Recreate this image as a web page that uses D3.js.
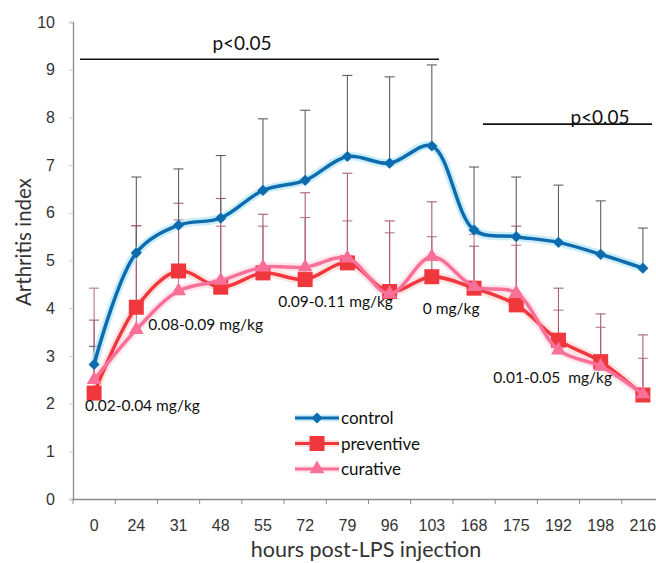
<!DOCTYPE html>
<html>
<head>
<meta charset="utf-8">
<script src="https://cdn.jsdelivr.net/npm/d3@7/dist/d3.min.js"></script>
<style>
  html, body { margin: 0; padding: 0; background: #fff; }
  svg { display: block; font-family: Lato, "Open Sans", "Liberation Sans", sans-serif; }
</style>
</head>
<body>
<svg id="chart" width="656" height="563"></svg>
<script>
// Time points (hours after LPS injection)
const hours = ["0", "24", "31", "48", "55", "72", "79", "96", "103", "168", "175", "192", "198", "216"];

// Mean arthritis index per group
const control    = [2.82, 5.16, 5.74, 5.89, 6.47, 6.68, 7.18, 7.04, 7.40, 5.64, 5.50, 5.38, 5.13, 4.84];
const preventive = [2.22, 4.02, 4.78, 4.44, 4.74, 4.60, 4.95, 4.35, 4.66, 4.42, 4.07, 3.33, 2.88, 2.18];
const curative   = [2.50, 3.55, 4.36, 4.58, 4.86, 4.86, 5.05, 4.30, 5.08, 4.45, 4.32, 3.12, 2.78, 2.20];

// Standard deviations (upper error bars)
const controlSD    = [0.38, 1.59, 1.18, 1.31, 1.50, 1.47, 1.70, 1.81, 1.70, 1.32, 1.25, 1.20, 1.12, 0.84];
const preventiveSD = [1.53, 1.71, 1.42, 1.86, 1.23, 1.82, 1.88, 1.48, 1.57, 0.88, 1.65, 1.09, 1.00, 1.26];
const curativeSD   = [1.92, 2.18, 1.49, 1.14, 0.86, 1.04, 0.78, 1.28, 0.42, 1.10, 1.00, 0.84, 0.82, 0.75];

const yTicks = [0, 1, 2, 3, 4, 5, 6, 7, 8, 9, 10];

// Dose annotations: text, time point it sits near, level on the index axis
const doseTexts  = ["0.02-0.04 mg/kg", "0.08-0.09 mg/kg", "0.09-0.11 mg/kg", "0 mg/kg", "0.01-0.05  mg/kg"];
const doseHours  = ["0", "24", "72", "103", "175"];
const doseLevels = [1.97, 3.65, 4.13, 4.0, 2.54];

// Significance levels and labels
const sigLevels = [9.22, 7.86];
const sigTexts  = ["p<0.05", "p<0.05"];

const svg = d3.select("#chart");
const plotLeft = 73, plotRight = 664, plotTop = 22, plotBottom = 499;

const x = d3.scaleBand().domain(hours).range([plotLeft, plotRight]).padding(0);
const cx = h => x(h) + x.bandwidth() / 2;
const y = d3.scaleLinear().domain([0, 10]).range([plotBottom, plotTop]);

// Axes
const yAxis = d3.axisLeft(y).tickValues(yTicks).tickSize(4).tickPadding(14);
const gy = svg.append("g").attr("transform", `translate(${plotLeft},0)`).call(yAxis);
gy.select(".domain").attr("stroke", "#8c8c8c").attr("stroke-width", 1.3);
gy.selectAll(".tick line").attr("stroke", "#e2c9b8");
gy.selectAll(".tick text").attr("fill", "#333").style("font-size", "16px");

const xAxis = d3.axisBottom(x).tickSize(0).tickPadding(21);
const gx = svg.append("g").attr("transform", `translate(0,${plotBottom})`).call(xAxis);
gx.select(".domain").attr("stroke", "#8c8c8c").attr("stroke-width", 1.3);
gx.selectAll(".tick text").attr("fill", "#333").style("font-size", "16px");
// Tick marks sit on the boundaries between time points
gx.selectAll(".bound").data(hours.concat([null])).enter().append("line")
  .attr("x1", (d, i) => plotLeft + i * x.bandwidth())
  .attr("x2", (d, i) => plotLeft + i * x.bandwidth())
  .attr("y1", 0).attr("y2", 5)
  .attr("stroke", "#8c8c8c");

// Axis titles
svg.append("text")
  .attr("transform", `translate(31,242) rotate(-90)`)
  .attr("text-anchor", "middle").attr("fill", "#333")
  .style("font-size", "20.5px").text("Arthritis index");
svg.append("text")
  .attr("x", 366).attr("y", 557).attr("text-anchor", "middle").attr("fill", "#333")
  .style("font-size", "21.5px").text("hours post-LPS injection");

// Series definitions
const series = [
  { name: "control", values: control, sd: controlSD, color: "#0e6cae", halo: "#b4e6f6", bar: "#5e5e66", marker: "diamond" },
  { name: "preventive", values: preventive, sd: preventiveSD, color: "#f0373e", halo: "#ffd6d2", bar: "#a8606c", marker: "square" },
  { name: "curative", values: curative, sd: curativeSD, color: "#f87098", halo: "#ffdbe6", bar: "#b87888", marker: "triangle" }
];

// Error bars (upper only)
series.slice().reverse().forEach(s => {
  const g = svg.append("g").attr("class", "err-" + s.name);
  hours.forEach((h, i) => {
    const upper = s.values[i] + s.sd[i];
    g.append("line").attr("x1", cx(h)).attr("x2", cx(h))
      .attr("y1", y(s.values[i])).attr("y2", y(upper))
      .attr("stroke", s.bar).attr("stroke-width", 1.1);
    g.append("line").attr("x1", cx(h) - 5).attr("x2", cx(h) + 5)
      .attr("y1", y(upper)).attr("y2", y(upper))
      .attr("stroke", s.bar).attr("stroke-width", 1.1);
  });
});

// Significance bars
const sigLayout = [
  { x0: 80, x1: 439, tx: 242, dy: -9 },
  { x0: 483, x1: 652, tx: 600, dy: 0 }
];
sigLevels.forEach((v, i) => {
  const L = sigLayout[i];
  svg.append("line").attr("x1", L.x0).attr("x2", L.x1).attr("y1", y(v)).attr("y2", y(v))
    .attr("stroke", "#111").attr("stroke-width", 1.6);
  svg.append("text").attr("x", L.tx).attr("y", y(v) + L.dy).attr("text-anchor", "middle")
    .attr("fill", "#111").style("font-size", "19px").text(sigTexts[i]);
});

const line = d3.line().x((d, i) => cx(hours[i])).y(d => y(d)).curve(d3.curveCatmullRom.alpha(0.5));

const symbolOf = {
  diamond: d3.symbol().type(d3.symbolDiamond2).size(80),
  square: d3.symbol().type(d3.symbolSquare).size(225),
  triangle: d3.symbol().type(d3.symbolTriangle).size(95)
};

// Lines with a soft halo, then markers
series.forEach(s => {
  svg.append("path").datum(s.values).attr("d", line)
    .attr("fill", "none").attr("stroke", s.halo).attr("stroke-width", 8.5).attr("stroke-opacity", 0.7);
});
series.forEach(s => {
  const g = svg.append("g");
  g.append("path").datum(s.values).attr("d", line)
    .attr("fill", "none").attr("stroke", s.color).attr("stroke-width", 3.5);
  g.selectAll("path.m").data(s.values).enter().append("path").attr("class", "m")
    .attr("d", symbolOf[s.marker])
    .attr("transform", (d, i) => `translate(${cx(hours[i])},${y(d)})`)
    .attr("fill", s.color);
});

// Dose annotations (horizontal offsets from the anchoring time point)
const doseDx = [-9, 12, -27, -9, -23];
doseTexts.forEach((t, i) => {
  svg.append("text").attr("x", cx(doseHours[i]) + doseDx[i]).attr("y", y(doseLevels[i]) + 5.5)
    .attr("fill", "#111").style("font-size", "15.5px").style("white-space", "pre").text(t);
});

// Legend
const legend = svg.append("g").attr("transform", "translate(295,418)");
series.forEach((s, i) => {
  const g = legend.append("g").attr("transform", `translate(0,${i * 25.5})`);
  g.append("line").attr("x1", 0).attr("x2", 44).attr("stroke", s.halo).attr("stroke-width", 7).attr("stroke-opacity", 0.7);
  g.append("line").attr("x1", 0).attr("x2", 44).attr("stroke", s.color).attr("stroke-width", 3);
  g.append("path").attr("d", symbolOf[s.marker]).attr("transform", "translate(22,0)").attr("fill", s.color);
  g.append("text").attr("x", 46).attr("y", 6).attr("fill", "#111").style("font-size", "17px").text(s.name);
});
</script>
</body>
</html>
